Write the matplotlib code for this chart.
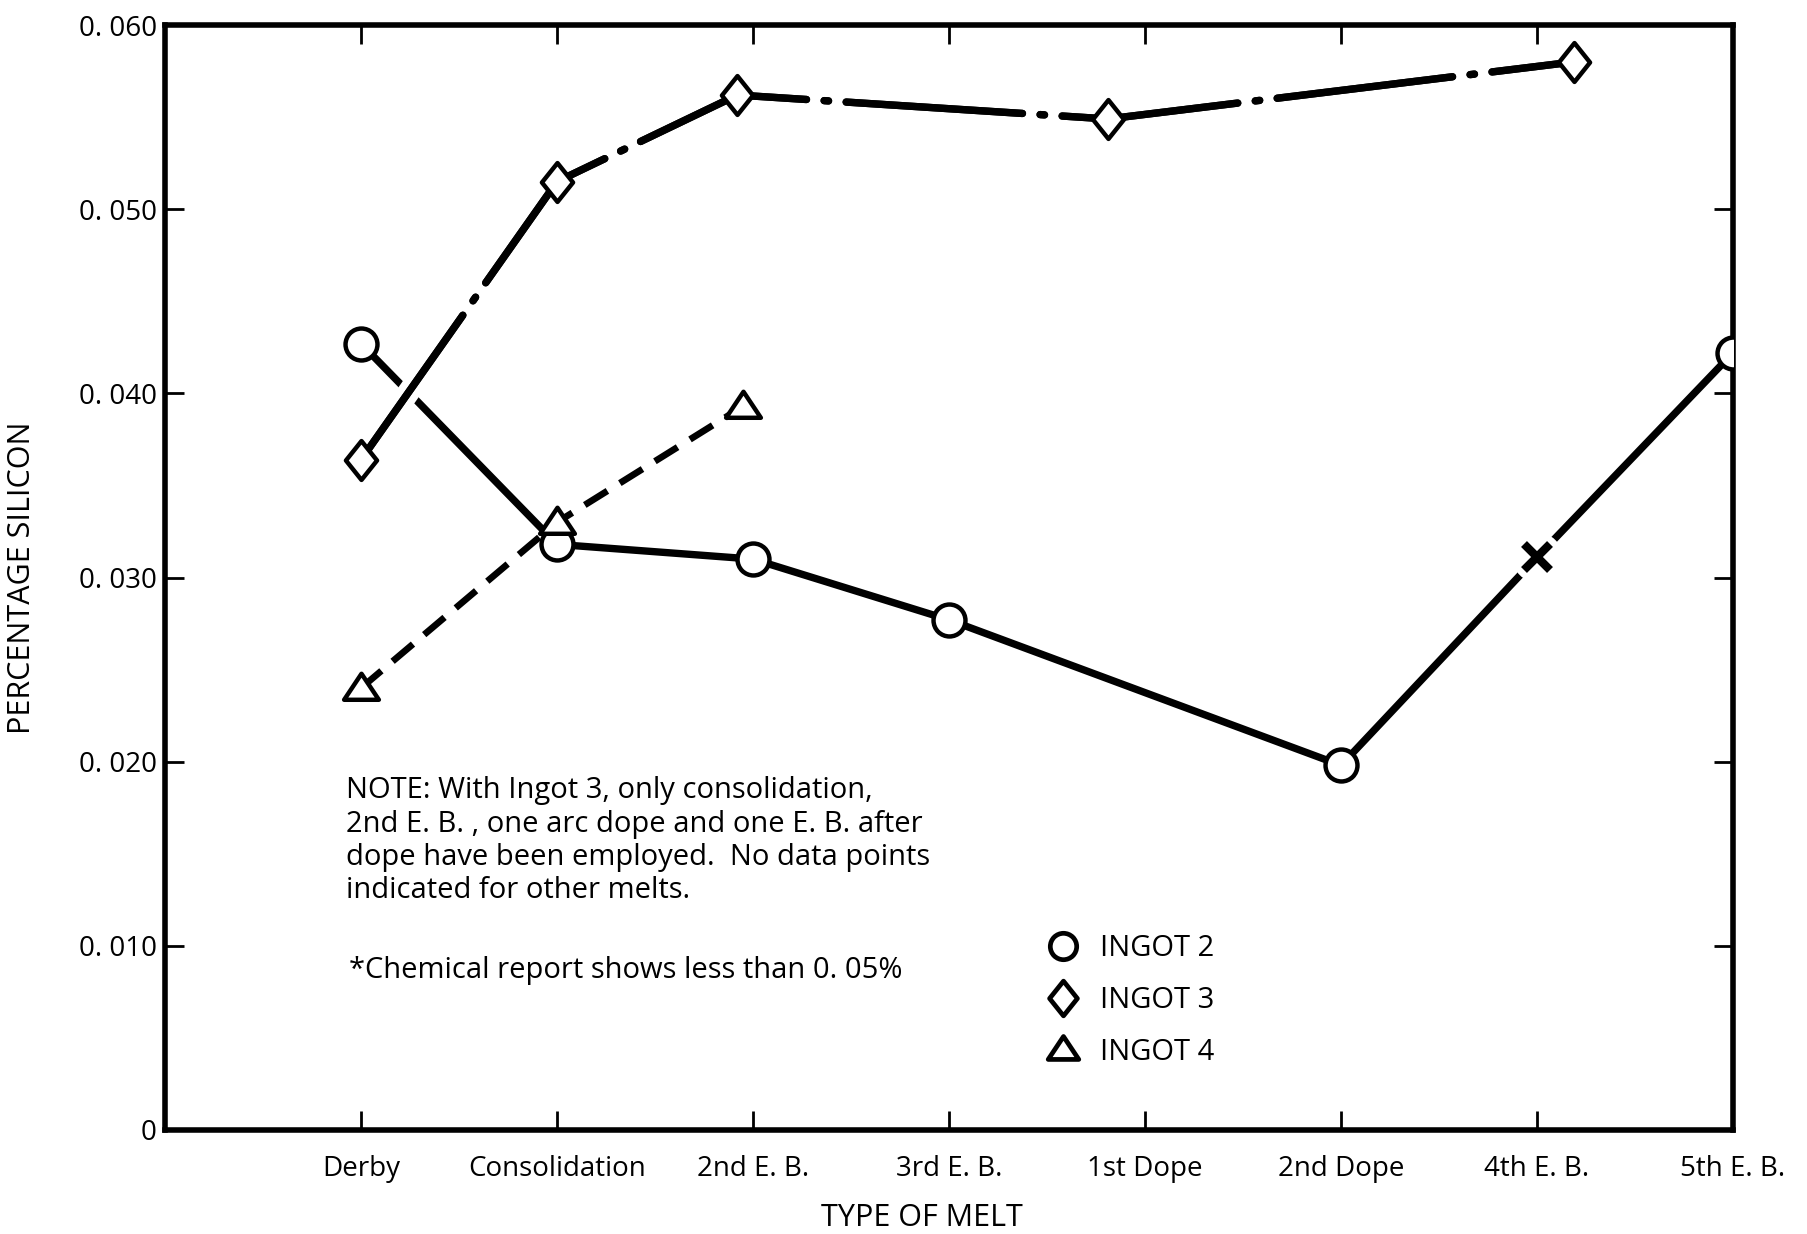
import matplotlib
matplotlib.use("Agg")
import matplotlib.pyplot as plt
from matplotlib.lines import Line2D
from matplotlib.path import Path
import matplotlib.patheffects as pe

plt.rcParams['font.family'] = ['Open Sans', 'DejaVu Sans']

categories = ["Derby", "Consolidation", "2nd E. B.", "3rd E. B.", "1st Dope",
              "2nd Dope", "4th E. B.", "5th E. B."]
yticks = [0, 0.010, 0.020, 0.030, 0.040, 0.050, 0.060]
ytick_labels = ["0", "0. 010", "0. 020", "0. 030", "0. 040", "0. 050", "0. 060"]

# Ingot 2 (circles); the point at 4th E.B. is drawn as an X (asterisk note)
ingot2_x = [0, 1, 2, 3, 5, 6, 7]
ingot2_y = [0.0427, 0.0318, 0.0310, 0.0277, 0.0198, 0.0311, 0.0422]
ingot2_star_x = [6]
ingot2_star_y = [0.0311]
# Ingot 3 (diamonds)
ingot3_x = [0, 1, 1.92, 3.81, 6.19]
ingot3_y = [0.0364, 0.0515, 0.0562, 0.0549, 0.0580]
# Ingot 4 (triangles)
ingot4_x = [0, 1, 1.95]
ingot4_y = [0.0240, 0.0330, 0.0393]

legend_labels = ["INGOT 2", "INGOT 3", "INGOT 4"]
note_text = ("NOTE: With Ingot 3, only consolidation,\n"
             "2nd E. B. , one arc dope and one E. B. after\n"
             "dope have been employed.  No data points\n"
             "indicated for other melts.")
foot_text = "*Chemical report shows less than 0. 05%"

diamond = Path([(0, 1), (0.8, 0), (0, -1), (-0.8, 0), (0, 1)],
               [Path.MOVETO, Path.LINETO, Path.LINETO, Path.LINETO, Path.CLOSEPOLY])
triangle = Path([(0, 0.85), (1, -0.65), (-1, -0.65), (0, 0.85)],
                [Path.MOVETO, Path.LINETO, Path.LINETO, Path.CLOSEPOLY])

fig = plt.figure(figsize=(18.08, 12.34), dpi=100)
ax = fig.add_axes([0.0913, 0.0843, 0.8672, 0.8954])

K = 'black'
# Ingot 2 line + circles
mark_idx = [i for i, x in enumerate(ingot2_x) if x not in ingot2_star_x]
ax.plot(ingot2_x, ingot2_y, color=K, lw=5.3, solid_capstyle='butt', zorder=2)
ax.plot([ingot2_x[i] for i in mark_idx], [ingot2_y[i] for i in mark_idx],
        ls='none', marker='o', ms=23, mfc='white', mec=K, mew=3.2, zorder=5)
# gap in the line around the X, then the X itself
ax.plot(ingot2_star_x, ingot2_star_y, ls='none', marker='o', ms=36, mfc='white',
        mec='none', zorder=3.8)
ax.plot(ingot2_star_x, ingot2_star_y, ls='none', marker='x', ms=19, mec=K, mew=6,
        zorder=4)

# Ingot 4 dashed
l4, = ax.plot(ingot4_x, ingot4_y, color=K, lw=4.8, zorder=3, solid_capstyle='butt',
              dash_capstyle='butt')
l4.set_dashes((4.0, 2.2))
ax.plot(ingot4_x, ingot4_y, ls='none', marker=triangle, ms=25, mfc='white', mec=K,
        mew=3.2, zorder=5)

# Ingot 3 long dash-dot with white halo (breaks Ingot 2 line at crossing)
l3, = ax.plot(ingot3_x, ingot3_y, color=K, lw=5.3, zorder=3.5, dash_capstyle='round',
              path_effects=[pe.withStroke(linewidth=16, foreground='white'), pe.Normal()])
l3.set_dashes((24, 2.4, 0.6, 2.4))
ax.plot(ingot3_x, ingot3_y, ls='none', marker=diamond, ms=28, mfc='white', mec=K,
        mew=3.2, zorder=5)

ax.set_xlim(-1, 7)
ax.set_ylim(0, 0.060)
ax.set_xticks(range(len(categories)))
ax.set_xticklabels(categories, fontsize=20)
ax.set_yticks(yticks)
ax.set_yticklabels(ytick_labels, fontsize=20)
ax.tick_params(axis='both', which='both', direction='in', length=14, width=2,
               top=True, right=True, labeltop=False, labelright=False)
ax.tick_params(axis='x', pad=18)
ax.tick_params(axis='y', pad=6)
for s in ax.spines.values():
    s.set_linewidth(4)

ax.set_xlabel("TYPE OF MELT", fontsize=22)
ax.xaxis.set_label_coords(0.483, -0.066)
ax.set_ylabel("PERCENTAGE SILICON", fontsize=22)
ax.yaxis.set_label_coords(-0.0815, 0.5)

ax.text(0.1154, 0.320, note_text, transform=ax.transAxes, fontsize=21,
        va='top', ha='left', linespacing=1.19)
ax.text(0.117, 0.144, foot_text, transform=ax.transAxes, fontsize=21,
        va='center', ha='left')

handles = [
    Line2D([], [], ls='none', marker='o', ms=19, mfc='white', mec=K, mew=3.4),
    Line2D([], [], ls='none', marker=diamond, ms=25, mfc='white', mec=K, mew=3.4),
    Line2D([], [], ls='none', marker=triangle, ms=22, mfc='white', mec=K, mew=3.4),
]
leg = ax.legend(handles, legend_labels, loc='upper left',
                bbox_to_anchor=(0.545, 0.201), frameon=False, fontsize=21,
                labelspacing=0.78, handletextpad=0.65, handlelength=1.2)

fig.savefig("out.png", dpi=100, facecolor='white')
